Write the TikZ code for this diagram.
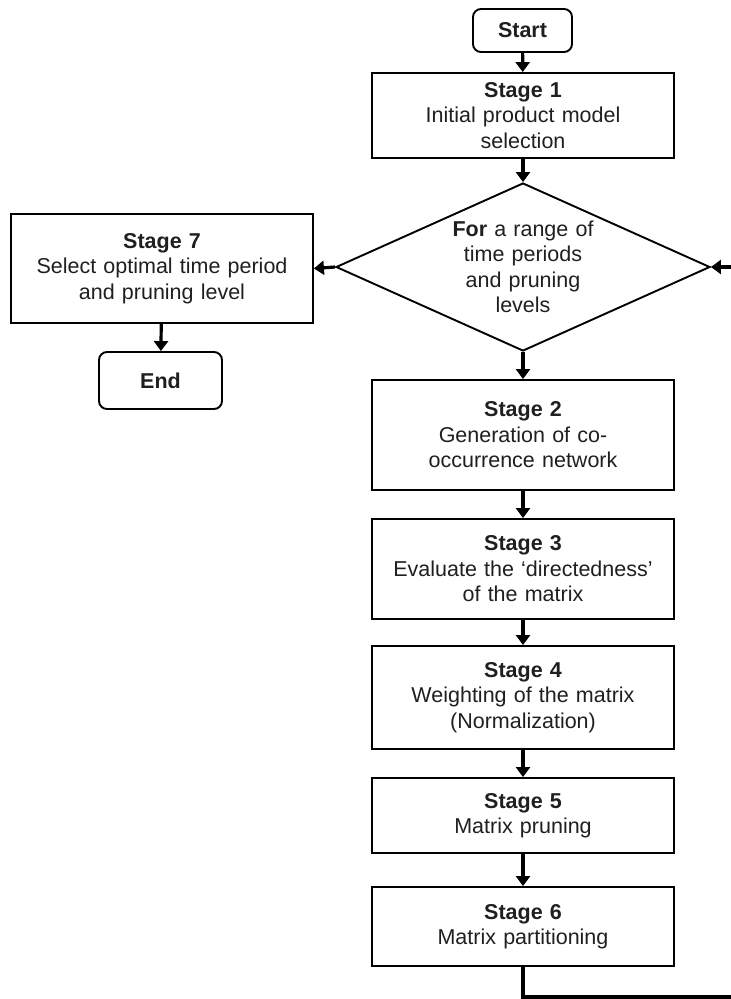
\documentclass[tikz,border=0pt]{standalone}
\usepackage{fontspec}
\setmainfont{Liberation Sans}
\usetikzlibrary{shapes.geometric,arrows.meta}
\begin{document}
\begin{tikzpicture}[x=1pt,y=-1pt,
  every node/.style={font=\fontsize{21.5}{25.5}\selectfont, align=center, inner sep=0pt, text=black!88},
  box/.style={draw, line width=1.9pt, text width=290pt, minimum width=302pt},
  term/.style={draw, line width=1.9pt, rounded corners=8pt},
  dec/.style={draw, line width=1.9pt, diamond, aspect=2.2, text width=150pt, minimum width=374pt, minimum height=168pt},
  arr/.style={line width=3.2pt, -{Triangle[width=14pt,length=10pt]}},
  lin/.style={line width=3.2pt}]
\useasboundingbox (0,0) rectangle (731,999);
\node[term, minimum width=99pt, minimum height=43pt] (start) at (522.5,30.5) {\textbf{Start}};
\node[box, minimum height=85pt] (s1) at (523,115.5) {\textbf{Stage 1}\\Initial product model\\selection};
\node[dec] (dia) at (523,267) {\textbf{For} a range of\\time periods\\and pruning\\levels};
\node[box, minimum height=109pt] (s7) at (162,268.5) {\textbf{Stage 7}\\Select optimal time period\\and pruning level};
\node[term, minimum width=123pt, minimum height=57pt] (end) at (160.5,380.5) {\textbf{End}};
\node[box, minimum height=110pt] (s2) at (523,435) {\textbf{Stage 2}\\Generation of co-\\occurrence network};
\node[box, minimum height=100pt] (s3) at (523,569) {\textbf{Stage 3}\\Evaluate the ‘directedness’\\of the matrix};
\node[box, minimum height=103pt] (s4) at (523,697.5) {\textbf{Stage 4}\\Weighting of the matrix\\(Normalization)};
\node[box, minimum height=75pt] (s5) at (523,815.5) {\textbf{Stage 5}\\Matrix pruning};
\node[box, minimum height=79pt] (s6) at (523,926.5) {\textbf{Stage 6}\\Matrix partitioning};
\coordinate (c1) at (523,997);
\coordinate (c2) at (735,997);
\coordinate (c3) at (735,267);
\draw[arr] (start) -- (s1);
\draw[arr] (s1) -- (dia.north);
\draw[arr] (dia.west) -- (s7.east);
\draw[arr] (s7) -- (end);
\draw[arr] (dia.south) -- (s2);
\draw[arr] (s2) -- (s3);
\draw[arr] (s3) -- (s4);
\draw[arr] (s4) -- (s5);
\draw[arr] (s5) -- (s6);
\draw[lin] (s6.south) -- (c1) -- (c2) -- (c3);
\draw[arr] (c3) -- (dia.east);
\end{tikzpicture}
\end{document}
